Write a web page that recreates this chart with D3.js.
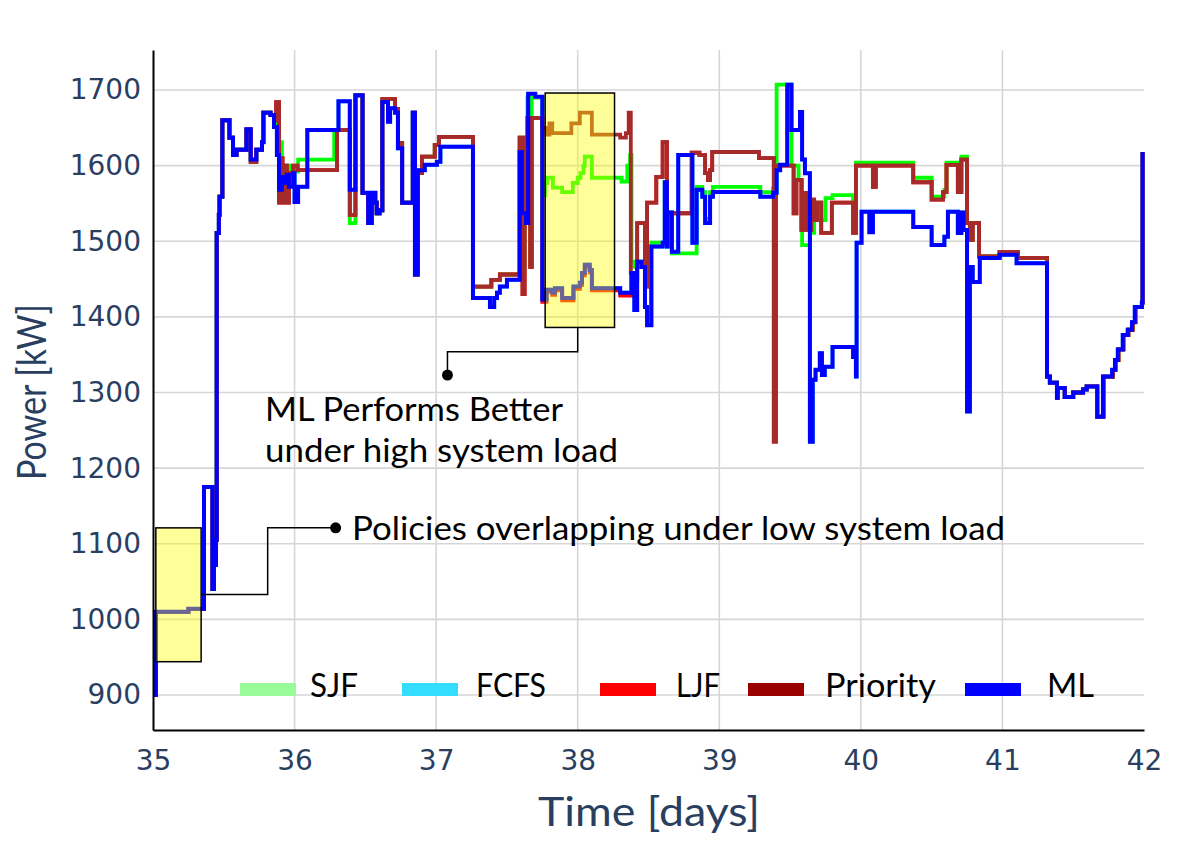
<!DOCTYPE html>
<html>
<head>
<meta charset="utf-8">
<script src="https://cdn.jsdelivr.net/npm/d3@7"></script>
<style>
  body { margin: 0; background: #fff; }
  svg { display: block; }
</style>
</head>
<body>
<div id="chart"></div>
<script>
// ---- data (time in days, power in kW) ----
var X_TICKS = [35, 36, 37, 38, 39, 40, 41, 42];
var Y_TICKS = [900, 1000, 1100, 1200, 1300, 1400, 1500, 1600, 1700];
var NAMES = ["SJF", "FCFS", "LJF", "Priority", "ML"];
var LINE_COLORS = ["#00ff00", "#00e5ff", "#ff0000", "#a52a2a", "#0000ff"];
var LEGEND_COLORS = ["#98fb98", "#33ddff", "#ff0000", "#990000", "#0000ff"];

var ML = [
  [35.00, 900], [35.02, 1010], [35.25, 1014], [35.36, 1175], [35.42, 1040], [35.43, 1072], [35.445, 1105],
  [35.45, 1511], [35.465, 1535], [35.47, 1559], [35.49, 1660], [35.54, 1637], [35.565, 1614], [35.59, 1621],
  [35.66, 1648], [35.69, 1608], [35.73, 1621], [35.77, 1631], [35.78, 1670], [35.83, 1667], [35.855, 1651],
  [35.875, 1614], [35.89, 1568], [35.91, 1585], [35.93, 1577], [35.945, 1588], [35.96, 1572], [35.99, 1590],
  [36.00, 1552], [36.025, 1572], [36.09, 1647], [36.31, 1685], [36.39, 1568], [36.43, 1693], [36.48, 1564],
  [36.52, 1524], [36.545, 1564], [36.57, 1551], [36.58, 1537], [36.60, 1541], [36.62, 1684], [36.66, 1658],
  [36.675, 1676], [36.71, 1670], [36.73, 1623], [36.76, 1551], [36.835, 1670], [36.85, 1456], [36.87, 1594],
  [36.92, 1601], [37.005, 1605], [37.03, 1625], [37.26, 1425], [37.38, 1413], [37.41, 1425], [37.43, 1432],
  [37.45, 1440], [37.50, 1449], [37.59, 1618], [37.605, 1537], [37.635, 1524], [37.65, 1695], [37.70, 1691],
  [37.75, 1423], [37.78, 1436], [37.82, 1432], [37.84, 1438], [37.89, 1425], [37.97, 1440], [38.015, 1445],
  [38.03, 1458], [38.05, 1469], [38.085, 1462], [38.10, 1438], [38.30, 1432], [38.38, 1458], [38.40, 1409],
  [38.42, 1473], [38.45, 1466], [38.475, 1413], [38.49, 1389], [38.52, 1493], [38.60, 1498], [38.615, 1578],
  [38.63, 1493], [38.635, 1538], [38.665, 1486], [38.71, 1614], [38.81, 1498], [38.84, 1568], [38.88, 1559],
  [38.90, 1524], [38.935, 1559], [38.955, 1565], [39.29, 1559], [39.38, 1564], [39.405, 1594], [39.43, 1601],
  [39.48, 1707], [39.51, 1647], [39.57, 1671], [39.585, 1608], [39.605, 1590], [39.64, 1235], [39.66, 1317],
  [39.68, 1330], [39.71, 1352], [39.725, 1323], [39.745, 1334], [39.80, 1360], [39.945, 1347], [39.965, 1321],
  [39.97, 1498], [40.005, 1539], [40.06, 1512], [40.085, 1539], [40.37, 1519], [40.50, 1495], [40.59, 1506],
  [40.615, 1539], [40.685, 1511], [40.71, 1538], [40.725, 1515], [40.75, 1275], [40.77, 1466], [40.79, 1446],
  [40.84, 1478], [40.98, 1482], [41.10, 1471], [41.315, 1321], [41.335, 1313], [41.385, 1293], [41.39, 1306],
  [41.44, 1294], [41.50, 1300], [41.57, 1304], [41.595, 1308], [41.67, 1268], [41.71, 1321], [41.775, 1330],
  [41.795, 1343], [41.815, 1357], [41.85, 1376], [41.885, 1383], [41.915, 1393], [41.935, 1413], [41.985, 1419],
  [41.99, 1618]
];

var PRIORITY = [
  [35.00, 900], [35.02, 1010], [35.25, 1014], [35.36, 1175], [35.42, 1040], [35.43, 1072], [35.445, 1105],
  [35.45, 1511], [35.465, 1535], [35.47, 1559], [35.49, 1660], [35.54, 1637], [35.565, 1614], [35.59, 1621],
  [35.66, 1648], [35.69, 1605], [35.73, 1621], [35.77, 1631], [35.78, 1670], [35.83, 1667], [35.855, 1660],
  [35.87, 1684], [35.89, 1551], [35.905, 1610], [35.915, 1551], [35.93, 1600], [35.945, 1551], [35.96, 1590],
  [35.99, 1600], [36.02, 1594], [36.30, 1647], [36.39, 1535], [36.43, 1693], [36.48, 1564], [36.52, 1524],
  [36.545, 1564], [36.57, 1551], [36.58, 1537], [36.60, 1541], [36.62, 1688], [36.71, 1675], [36.73, 1630],
  [36.76, 1551], [36.835, 1670], [36.85, 1456], [36.87, 1590], [36.90, 1612], [36.99, 1627], [37.02, 1638],
  [37.26, 1440], [37.39, 1449], [37.45, 1456], [37.58, 1456], [37.59, 1637], [37.61, 1430], [37.625, 1637],
  [37.635, 1525], [37.645, 1663], [37.665, 1466], [37.675, 1663], [37.75, 1650], [37.78, 1641], [37.80, 1656],
  [37.82, 1643], [37.955, 1656], [38.015, 1670], [38.10, 1641], [38.30, 1637], [38.34, 1643], [38.36, 1670],
  [38.375, 1458], [38.40, 1449], [38.42, 1524], [38.475, 1440], [38.49, 1551], [38.555, 1585], [38.60, 1631],
  [38.63, 1537], [38.805, 1617], [38.86, 1614], [38.90, 1590], [38.92, 1581], [38.935, 1594], [38.95, 1618],
  [39.28, 1610], [39.385, 1235], [39.40, 1600], [39.525, 1537], [39.545, 1581], [39.58, 1515], [39.60, 1564],
  [39.615, 1515], [39.65, 1555], [39.67, 1528], [39.69, 1551], [39.72, 1511], [39.795, 1551], [39.945, 1511],
  [39.965, 1600], [40.085, 1572], [40.105, 1600], [40.37, 1578], [40.50, 1555], [40.58, 1565], [40.605, 1601],
  [40.685, 1565], [40.71, 1608], [40.75, 1524], [40.77, 1502], [40.79, 1524], [40.835, 1480], [40.98, 1486],
  [41.11, 1478], [41.315, 1321], [41.335, 1313], [41.385, 1293], [41.39, 1306], [41.44, 1294], [41.50, 1300],
  [41.57, 1304], [41.595, 1308], [41.67, 1268], [41.715, 1321], [41.78, 1330], [41.80, 1343], [41.82, 1357],
  [41.855, 1376], [41.89, 1383], [41.92, 1393], [41.94, 1413], [41.985, 1419], [41.99, 1618]
];

var SJF = [
  [35.00, 900], [35.02, 1010], [35.25, 1014], [35.36, 1175], [35.42, 1040], [35.43, 1072], [35.445, 1105],
  [35.45, 1511], [35.465, 1535], [35.47, 1559], [35.49, 1660], [35.54, 1637], [35.565, 1614], [35.59, 1621],
  [35.66, 1648], [35.69, 1605], [35.73, 1621], [35.77, 1631], [35.78, 1670], [35.83, 1667], [35.855, 1660],
  [35.87, 1655], [35.885, 1631], [35.91, 1600], [35.935, 1600], [35.965, 1592], [36.025, 1608], [36.28, 1647],
  [36.39, 1524], [36.43, 1693], [36.48, 1564], [36.52, 1524], [36.545, 1564], [36.57, 1551], [36.58, 1537],
  [36.60, 1541], [36.62, 1688], [36.71, 1675], [36.73, 1630], [36.76, 1551], [36.835, 1670], [36.85, 1456],
  [36.87, 1590], [36.90, 1612], [36.99, 1627], [37.02, 1638], [37.26, 1440], [37.39, 1449], [37.45, 1456],
  [37.58, 1456], [37.59, 1637], [37.61, 1466], [37.625, 1637], [37.635, 1525], [37.645, 1690], [37.665, 1466],
  [37.675, 1690], [37.75, 1561], [37.77, 1577], [37.785, 1584], [37.825, 1571], [37.89, 1565], [37.965, 1577],
  [38.00, 1584], [38.02, 1590], [38.04, 1600], [38.05, 1612], [38.10, 1584], [38.31, 1579], [38.35, 1600],
  [38.37, 1614], [38.38, 1473], [38.40, 1466], [38.42, 1473], [38.475, 1413], [38.49, 1389], [38.52, 1498],
  [38.60, 1498], [38.615, 1578], [38.63, 1493], [38.635, 1538], [38.665, 1484], [38.84, 1572], [38.88, 1565],
  [38.90, 1530], [38.935, 1565], [38.955, 1572], [39.29, 1565], [39.38, 1570], [39.405, 1707], [39.51, 1600],
  [39.56, 1581], [39.585, 1495], [39.64, 1511], [39.67, 1551], [39.72, 1528], [39.75, 1557], [39.80, 1561],
  [39.945, 1555], [39.965, 1604], [40.085, 1575], [40.105, 1604], [40.37, 1584], [40.50, 1559], [40.59, 1568],
  [40.605, 1604], [40.685, 1568], [40.71, 1612], [40.75, 1524], [40.77, 1502], [40.79, 1524], [40.835, 1480],
  [40.98, 1486], [41.11, 1478], [41.315, 1321], [41.335, 1313], [41.385, 1293], [41.39, 1306], [41.44, 1294],
  [41.50, 1300], [41.57, 1304], [41.595, 1308], [41.67, 1268], [41.715, 1321], [41.78, 1330], [41.80, 1343],
  [41.82, 1357], [41.855, 1376], [41.89, 1383], [41.92, 1393], [41.94, 1413], [41.985, 1419], [41.99, 1618]
];

// LJF sits just under ML inside the high-load box, under Priority elsewhere
var LJF_BOX = [
  [37.75, 1420], [37.78, 1433], [37.82, 1429], [37.84, 1435], [37.89, 1422], [37.97, 1437], [38.015, 1442],
  [38.03, 1455], [38.05, 1466], [38.085, 1459], [38.10, 1435], [38.30, 1428], [38.38, 1455]
];
var LJF = PRIORITY.filter(function (d) { return d[0] < 37.75; })
  .concat(LJF_BOX, PRIORITY.filter(function (d) { return d[0] >= 38.40; }));
// FCFS is completely hidden under ML in the reference
var FCFS = ML;

var SERIES = [SJF, FCFS, LJF, PRIORITY, ML];

// highlight boxes [x0, x1, y0, y1] (data units)
var BOX_LOW = [35.02, 35.34, 944, 1121];
var BOX_HIGH = [37.77, 38.26, 1386, 1696];

// ---- layout ----
var W = 1182, H = 844;
var M = { l: 153, r: 38, t: 50, b: 114 };
var iw = W - M.l - M.r, ih = H - M.t - M.b;
var TEXT = "#2a3f5f", GRID = "#d6d6d6";
var TICKFONT = "'DejaVu Sans', Verdana, sans-serif";
var LABFONT = "Lato, 'Open Sans', sans-serif";

var svg = d3.select("#chart").append("svg").attr("width", W).attr("height", H)
  .style("background", "#fff");
var g = svg.append("g").attr("transform", "translate(" + M.l + "," + M.t + ")");

var x = d3.scaleLinear().domain([35, 42]).range([0, iw]);
var y = d3.scaleLinear().domain([853.7, 1752.9]).range([ih, 0]);

// grid
g.append("g").selectAll("line").data(X_TICKS.slice(1, -1)).enter().append("line")
  .attr("x1", function (d) { return x(d); }).attr("x2", function (d) { return x(d); })
  .attr("y1", 0).attr("y2", ih).attr("stroke", GRID).attr("stroke-width", 1.6);
g.append("g").selectAll("line").data(Y_TICKS).enter().append("line")
  .attr("x1", 0).attr("x2", iw)
  .attr("y1", function (d) { return y(d); }).attr("y2", function (d) { return y(d); })
  .attr("stroke", GRID).attr("stroke-width", 1.6);

// lines
var line = d3.line().x(function (d) { return x(d[0]); }).y(function (d) { return y(d[1]); })
  .curve(d3.curveStepAfter);
SERIES.forEach(function (s, i) {
  g.append("path").attr("d", line(s)).attr("fill", "none")
    .attr("stroke", LINE_COLORS[i]).attr("stroke-width", i === 4 ? 4 : 3.8);
});

// axes
var ya = g.append("g").call(d3.axisLeft(y).tickValues(Y_TICKS).tickFormat(d3.format("d"))
  .tickSize(0).tickSizeOuter(0).tickPadding(12));
ya.select(".domain").attr("stroke", "#000").attr("stroke-width", 2);
ya.selectAll("text").attr("fill", TEXT).style("font-family", TICKFONT).style("font-size", "28px");
var xa = g.append("g").attr("transform", "translate(0," + ih + ")")
  .call(d3.axisBottom(x).tickValues(X_TICKS).tickFormat(d3.format("d"))
    .tickSize(0).tickSizeOuter(0).tickPadding(20));
xa.select(".domain").attr("stroke", "#000").attr("stroke-width", 2);
xa.selectAll("text").attr("fill", TEXT).style("font-family", TICKFONT).style("font-size", "28px");

svg.append("text").attr("x", 649).attr("y", 826).attr("text-anchor", "middle")
  .attr("fill", TEXT).style("font-family", LABFONT).style("font-size", "41px")
  .attr("textLength", 222).attr("lengthAdjust", "spacingAndGlyphs").text("Time [days]");
svg.append("text").attr("transform", "translate(46,392) rotate(-90)").attr("text-anchor", "middle")
  .attr("fill", TEXT).style("font-family", LABFONT).style("font-size", "40px")
  .attr("textLength", 176).attr("lengthAdjust", "spacingAndGlyphs").text("Power [kW]");

// highlight boxes
[BOX_LOW, BOX_HIGH].forEach(function (b) {
  g.append("rect").attr("x", x(b[0])).attr("width", x(b[1]) - x(b[0]))
    .attr("y", y(b[3])).attr("height", y(b[2]) - y(b[3]))
    .attr("fill", "#ffff00").attr("fill-opacity", 0.4)
    .attr("stroke", "#000").attr("stroke-width", 1.5);
});

// connectors
var conn = d3.line().x(function (d) { return x(d[0]); }).y(function (d) { return y(d[1]); });
var C_HIGH = [[38.0, 1386], [38.0, 1354], [37.08, 1354], [37.08, 1323]];
var C_LOW = [[35.34, 1033], [35.81, 1033], [35.81, 1121], [36.29, 1121]];
[C_HIGH, C_LOW].forEach(function (c) {
  g.append("path").attr("d", conn(c)).attr("fill", "none").attr("stroke", "#000").attr("stroke-width", 1.5);
  var e = c[c.length - 1];
  g.append("circle").attr("cx", x(e[0])).attr("cy", y(e[1])).attr("r", 5.5).attr("fill", "#000");
});

function note(t, px, py, len) {
  svg.append("text").attr("x", px).attr("y", py).attr("fill", "#000")
    .style("font-family", LABFONT).style("font-size", "33px")
    .attr("textLength", len).attr("lengthAdjust", "spacingAndGlyphs").text(t);
}
note("ML Performs Better", 265, 421, 298);
note("under high system load", 265, 462, 353);
note("Policies overlapping under low system load", 352, 540, 653);

// legend
var LEG_SW = [240, 402, 600, 748, 965];
var LEG_TX = [310, 476, 676, 825, 1047];
var LEG_LEN = [48, 70, 44, 111, 47];
NAMES.forEach(function (n, i) {
  svg.append("rect").attr("x", LEG_SW[i]).attr("y", 683).attr("width", 56).attr("height", 13)
    .attr("fill", LEGEND_COLORS[i]);
  svg.append("text").attr("x", LEG_TX[i]).attr("y", 697).attr("fill", "#000")
    .style("font-family", LABFONT).style("font-size", "33px")
    .attr("textLength", LEG_LEN[i]).attr("lengthAdjust", "spacingAndGlyphs").text(n);
});
</script>
</body>
</html>
